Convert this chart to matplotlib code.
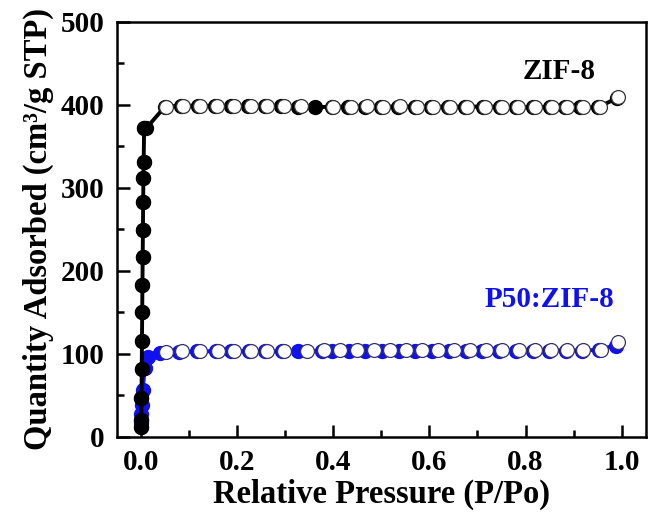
import matplotlib
matplotlib.use('Agg')
import numpy as np
from matplotlib import pyplot as plt

# ZIF-8, adsorption branch (filled)
zif_ads_p = [0.0003, 0.0006, 0.001, 0.0015, 0.002, 0.0025, 0.003, 0.0035, 0.004, 0.0045, 0.005, 0.0055, 0.0065, 0.011,
             0.050, 0.083, 0.118, 0.153, 0.188, 0.223, 0.258, 0.292, 0.327, 0.362, 0.397, 0.431, 0.466, 0.500,
             0.535, 0.570, 0.604, 0.638, 0.673, 0.711, 0.746, 0.780, 0.815, 0.850, 0.881, 0.914, 0.950, 0.990]
zif_ads_v = [12, 20, 47, 82, 116, 150, 183, 217, 249, 283, 312, 331, 372, 372,
             398, 399, 399, 399, 399, 399, 399, 399, 398, 397, 398, 398, 398, 398,
             398, 398, 398, 398, 398, 398, 398, 397, 397, 398, 397, 397, 397, 408]

# ZIF-8, desorption branch (open)
zif_des_p = [0.992, 0.954, 0.919, 0.886, 0.855, 0.820, 0.784, 0.751, 0.716, 0.678, 0.643, 0.608, 0.575, 0.539,
             0.504, 0.471, 0.436, 0.400, 0.332, 0.297, 0.263, 0.228, 0.193, 0.158, 0.122, 0.087, 0.052]
zif_des_v = [410, 397, 397, 398, 398, 398, 398, 398, 398, 398, 398, 398, 398, 399,
             398, 399, 398, 398, 399, 399, 399, 399, 399, 399, 399, 399, 398]

# P50:ZIF-8, adsorption branch (filled)
p50_ads_p = [0.0005, 0.001, 0.002, 0.004, 0.008, 0.015, 0.040,
             0.080, 0.117, 0.155, 0.188, 0.224, 0.258, 0.293, 0.326, 0.377, 0.398, 0.433, 0.467, 0.502,
             0.537, 0.571, 0.606, 0.640, 0.676, 0.710, 0.745, 0.780, 0.815, 0.849, 0.884, 0.917, 0.952, 0.988]
p50_ads_v = [17, 28, 39, 57, 83, 96, 101,
             102, 103, 103, 103, 103, 103, 103, 104, 104, 103, 104, 104, 104,
             104, 104, 104, 104, 104, 104, 104, 104, 104, 104, 104, 104, 105, 110]

# P50:ZIF-8, desorption branch (open)
p50_des_p = [0.992, 0.957, 0.919, 0.886, 0.853, 0.820, 0.786, 0.751, 0.718, 0.684, 0.651, 0.618, 0.585,
             0.552, 0.518, 0.485, 0.450, 0.415, 0.380, 0.346, 0.297, 0.263, 0.228, 0.193, 0.160, 0.122, 0.085, 0.052]
p50_des_v = [114, 105, 105, 105, 105, 105, 105, 105, 105, 105, 105, 105, 105,
             105, 105, 105, 105, 105, 105, 104, 104, 104, 104, 104, 104, 104, 103, 102]

blue = '#1010f0'
plt.rcParams['font.family'] = ['Liberation Serif', 'DejaVu Serif']
plt.rcParams['font.weight'] = 'bold'

fig = plt.figure(figsize=(6.52, 5.15), dpi=100)
ax = fig.add_axes([0.1794, 0.1515, 0.811, 0.806])

ms = 10
ax.plot(zif_ads_p, zif_ads_v, '-o', color='black', lw=2.8, ms=ms, zorder=3)
ax.plot(zif_des_p, zif_des_v, '-o', color='black', lw=1.8, ms=ms, mfc='white', mec='#333333', mew=0.9, zorder=4)
ax.plot(p50_ads_p, p50_ads_v, '-o', color=blue, lw=2.6, ms=ms, zorder=2)
ax.plot(p50_des_p, p50_des_v, '-o', color=blue, lw=1.8, ms=ms, mfc='white', mec='#333366', mew=0.9, zorder=2.5)
# black low-pressure points sit on top of the blue ones
ax.plot(zif_ads_p[:13], zif_ads_v[:13], 'o', color='black', ms=ms, zorder=3.5)

ax.text(0.87, 440, 'ZIF-8', fontsize=21, fontweight='bold', ha='center', va='center', color='black')
ax.text(0.85, 165, 'P50:ZIF-8', fontsize=21, fontweight='bold', ha='center', va='center', color=blue)

ax.set_xlim(-0.05, 1.05)
ax.set_ylim(0, 500)
ax.set_xticks(np.arange(0, 1.01, 0.2))
ax.set_xticks(np.arange(0.1, 1.0, 0.2), minor=True)
ax.set_yticks(np.arange(0, 501, 100))
ax.set_yticks(np.arange(50, 500, 100), minor=True)
ax.set_xticklabels(['0.0', '0.2', '0.4', '0.6', '0.8', '1.0'])
ax.tick_params(which='major', direction='in', length=9, width=1.8, labelsize=21, pad=9)
ax.tick_params(which='minor', direction='in', length=5, width=1.8)
for s in ax.spines.values():
    s.set_linewidth(1.8)

ax.set_xlabel('Relative Pressure (P/Po)', fontsize=23.5, fontweight='bold', labelpad=2)
ax.set_ylabel('Quantity Adsorbed (cm³/g STP)', fontsize=23.5, fontweight='bold', labelpad=5)

fig.savefig('out.png', dpi=100)
